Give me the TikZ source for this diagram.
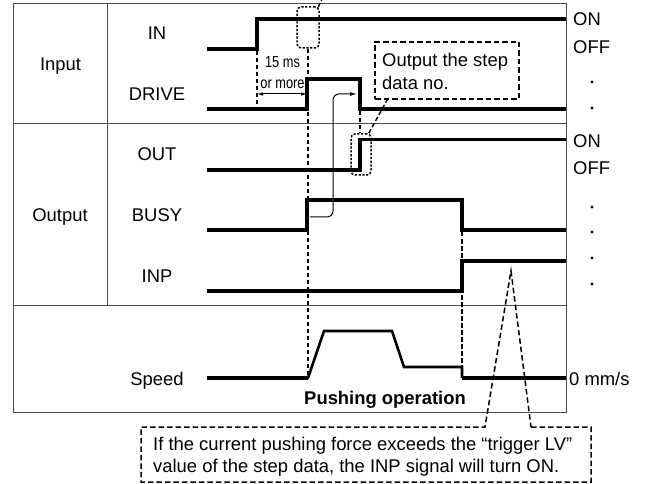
\documentclass[tikz,border=0pt]{standalone}
\usepackage{fontspec}
\setmainfont{Liberation Sans}
\usetikzlibrary{arrows.meta,calc}
\begin{document}
\begin{tikzpicture}[x=1bp,y=-1bp,
  lbl/.style={font=\fontsize{18.4bp}{22bp}\selectfont, inner sep=0, anchor=base},
  lblw/.style={lbl, anchor=base west},
  small/.style={font=\fontsize{16bp}{18bp}\selectfont, inner sep=0, anchor=base},
  sig/.style={line width=3.8bp, line join=miter, line cap=butt},
  speedln/.style={line width=2.6bp, line join=miter},
  frame/.style={line width=1bp, draw=black!70},
  dsh/.style={line width=1.4bp, dash pattern=on 4.5bp off 2.5bp},
  dbox/.style={line width=1.5bp, dash pattern=on 5.5bp off 3bp},
  dotbox/.style={draw, line width=1.5bp, dash pattern=on 2.2bp off 1.6bp, rounded corners=4bp, inner sep=0},
  thinln/.style={line width=1bp},
  dotmark/.style={circle, fill, inner sep=0, minimum size=3.4bp}
]
\useasboundingbox (0,0) rectangle (651,484);

% table frame
\draw[frame] (13,4) rectangle (566,412);
\draw[frame] (107,4) -- (107,305);
\draw[frame] (13,124) -- (566,124);
\draw[frame] (13,305) -- (566,305);

% row labels
\node[lbl] (lin) at (60.5,71) {Input};
\node[lbl] (lout) at (60,221.5) {Output};
\node[lbl] (nIN) at (157,39.5) {IN};
\node[lbl] (nDRIVE) at (157,100.5) {DRIVE};
\node[lbl] (nOUT) at (157,161) {OUT};
\node[lbl] (nBUSY) at (157,221.5) {BUSY};
\node[lbl] (nINP) at (157,282) {INP};
\node[lbl] (nSpeed) at (157,385.5) {Speed};

% right labels
\node[lblw] (on1) at (573,26) {ON};
\node[lblw] (off1) at (573,54) {OFF};
\node[lblw] (on2) at (573,148) {ON};
\node[lblw] (off2) at (573,175) {OFF};
\node[lblw] (zero) at (569,385.5) {0 mm/s};
\foreach \yy/\nm in {82/d1,108/d2,207/d3,232/d4,258/d5,284/d6}
  \node[dotmark] (\nm) at (592,\yy) {};

% dotted callout boxes
\node[dotbox, minimum width=22bp, minimum height=41bp] (dotIN) at (308,27.5) {};
\node[dotbox, minimum width=20bp, minimum height=41bp] (dotOUT) at (361,154.5) {};
\coordinate (titleref) at (322,-1);
\draw[dsh] ($(dotIN.north east)+(-1.5,1)$) -- (titleref);

% timing reference dashed lines
\coordinate (speedrise) at (308,378);
\coordinate (speeddrop) at (462,367);
\draw[dsh] (dotIN.south) -- (speedrise);
\draw[dsh] (257,51) -- (257,109);
\draw[dsh] (360,111) -- (dotOUT.north -| 360,0);
\draw[dsh] (462,232) -- (speeddrop);

% signals
\draw[sig] (207,49) -- (257,49) -- (257,19) -- (566,19);
\draw[sig] (207,109) -- (307,109) -- (307,79) -- (360,79) -- (360,109) -- (566,109);
\draw[sig] (207,170) -- (360,170) -- (360,139.5) -- (566,139.5);
\draw[sig] (207,230) -- (307,230) -- (307,200) -- (462,200) -- (462,230) -- (566,230);
\draw[sig] (207,291) -- (462,291) -- (462,261) -- (566,261);
\draw[sig] (207,378) -- (speedrise);
\draw[speedln] (speedrise) -- (324,331) -- (392,331) -- (404,367) -- (speeddrop) -- (462,378);
\draw[sig] (462,378) -- (566,378);

% 15 ms or more
\draw[thinln, {Latex[length=6bp,width=3.6bp]}-{Latex[length=6bp,width=3.6bp]}] (257,94) -- (307,94);
\node[small] (t15) at (282.5,68) {\scalebox{0.8}[1]{15 ms}};
\node[small] (tmore) at (282.5,89) {\scalebox{0.8}[1]{or more}};

% step data callout
\node[draw, dbox, minimum width=144bp, minimum height=57bp, inner sep=0] (stepbox) at (447,70.5) {};
\node[lblw] (st1) at (382,67) {Output the step};
\node[lblw] (st2) at (382,89.5) {data no.};
\draw[dsh] ($(dotOUT.north east)+(-3,0)$) -- ($(stepbox.south west)+(13,0)$);

% busy -> drive arrow
\draw[thinln, -{Latex[length=7bp,width=4bp]}, rounded corners=6bp] (310,217) -- (333,217) -- (333,94) -- (357,94);

% pushing operation
\node[lbl, font=\fontsize{18.4bp}{22bp}\selectfont\bfseries] (push) at (385,404) {Pushing operation};

% bottom note
\coordinate (apex) at (511,271);
\coordinate (gapL) at (485,427);
\coordinate (gapR) at (531,427);
\draw[dbox] (gapR) -- (591,427) -- (591,482) -- (141,482) -- (141,427) -- (gapL) -- (apex) -- (gapR);
\node[lblw] (nt1) at (153,450.5) {If the current pushing force exceeds the “trigger LV”};
\node[lblw] (nt2) at (153,472.5) {value of the step data, the INP signal will turn ON.};
\end{tikzpicture}
\end{document}
